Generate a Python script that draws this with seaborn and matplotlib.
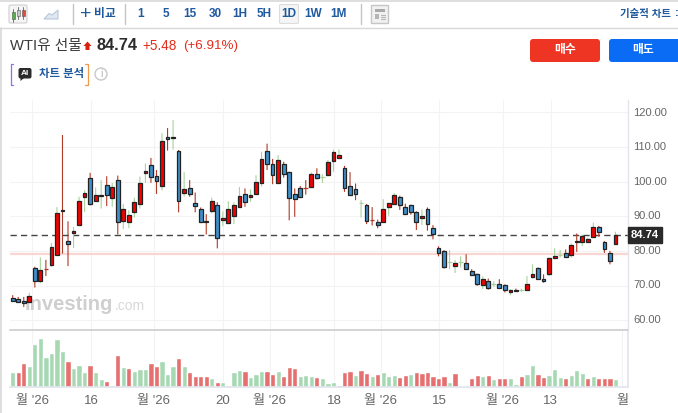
import matplotlib
matplotlib.use("Agg")
import matplotlib.pyplot as plt
from matplotlib.patches import FancyBboxPatch, Rectangle, Circle, Polygon
import numpy as np
import pandas as pd
import seaborn as sns

# candle data
opens = [66.6, 66.3, 65.7, 65.4, 75.2, 71.3, 74.9, 76.1, 79.0, 92.0,
         83.0, 85.3, 87.5, 95.7, 101.0, 94.4, 95.9, 99.2, 95.2, 100.5,
         88.8, 88.5, 91.3, 93.5, 102.5, 104.9, 101.7, 98.9, 112.9, 112.6,
         108.9, 96.9, 98.2, 93.9, 92.1, 88.8, 91.7, 93.2, 89.1, 88.0,
         90.1, 92.8, 96.6, 95.7, 96.6, 99.7, 109.0, 105.0, 99.7, 105.0,
         102.7, 96.4, 98.2, 98.3, 98.4, 102.2, 101.2, 101.9, 106.1, 107.0,
         104.0, 98.9, 97.9, 93.8, 93.4, 89.2, 88.5, 88.5, 92.6, 93.5,
         95.7, 92.8, 93.2, 91.3, 89.6, 92.3, 86.8, 80.8, 79.9, 76.9,
         75.7, 76.7, 76.6, 74.3, 73.3, 70.1, 71.5, 70.5, 70.5, 70.1,
         68.3, 68.8, 68.7, 68.8, 72.6, 75.1, 72.1, 73.4, 77.9, 78.8,
         79.4, 79.0, 83.0, 82.5, 82.7, 84.2, 87.0, 82.7, 79.6, 82.0]
closes = [65.7, 65.4, 65.1, 67.2, 71.3, 74.6, 74.8, 81.2, 90.9, 91.7,
          82.2, 85.9, 94.4, 96.8, 93.7, 96.1, 96.3, 96.2, 98.4, 88.3,
          92.3, 90.3, 94.3, 99.7, 103.0, 101.5, 100.2, 111.7, 112.3, 112.9,
          94.4, 97.9, 96.6, 92.9, 88.3, 88.3, 94.6, 83.9, 89.6, 92.1,
          93.2, 95.9, 94.3, 96.3, 100.0, 106.7, 105.0, 101.9, 106.3, 102.2,
          95.2, 94.9, 95.5, 98.2, 102.2, 101.0, 101.3, 105.6, 108.6, 107.8,
          98.2, 96.3, 96.6, 93.9, 88.8, 89.1, 87.6, 92.1, 93.8, 96.1,
          93.2, 90.6, 91.4, 88.3, 90.0, 87.8, 84.9, 79.5, 75.3, 77.0,
          76.6, 76.8, 74.9, 73.2, 70.5, 72.0, 69.3, 70.6, 69.5, 68.8,
          68.8, 68.6, 68.8, 70.5, 73.5, 72.0, 71.5, 77.9, 78.7, 78.9,
          78.4, 81.9, 82.5, 84.5, 83.6, 87.0, 85.4, 80.5, 77.2, 84.6]
highs = [67.3, 66.8, 66.8, 68.0, 75.5, 78.2, 77.5, 82.4, 92.7, 113.5,
         88.6, 87.0, 95.7, 97.6, 102.6, 98.4, 100.5, 101.6, 99.7, 101.8,
         93.6, 91.8, 95.4, 101.5, 105.3, 106.9, 103.4, 114.0, 115.5, 117.8,
         109.2, 102.8, 100.5, 96.9, 92.6, 90.7, 95.4, 94.1, 91.5, 94.4,
         94.1, 98.5, 98.1, 97.8, 101.9, 108.7, 111.0, 106.6, 107.7, 105.8,
         102.9, 98.1, 98.8, 100.5, 102.7, 103.9, 102.2, 106.3, 109.3, 109.3,
         104.6, 102.8, 99.5, 94.7, 93.6, 92.7, 89.1, 95.0, 94.0, 96.8,
         96.0, 93.7, 93.4, 91.5, 92.0, 92.6, 87.5, 81.4, 80.3, 80.3,
         77.4, 78.5, 79.1, 74.8, 73.5, 72.7, 72.1, 71.3, 71.9, 70.4,
         69.0, 69.2, 69.2, 72.8, 76.2, 75.3, 73.3, 78.2, 80.8, 80.3,
         80.5, 82.2, 85.1, 84.8, 83.9, 88.2, 87.3, 82.9, 80.1, 85.6]
lows = [65.5, 65.2, 63.9, 65.2, 69.5, 70.8, 72.8, 75.5, 78.8, 79.3,
        75.7, 80.9, 87.5, 91.3, 93.2, 94.2, 92.3, 93.0, 92.8, 84.8,
        86.4, 86.6, 89.7, 92.3, 99.7, 99.7, 96.5, 97.5, 109.0, 109.3,
        91.2, 95.7, 95.7, 91.2, 88.1, 84.8, 90.9, 80.8, 87.2, 87.8,
        87.8, 92.8, 92.8, 94.2, 96.4, 98.6, 103.4, 99.3, 99.5, 101.2,
        88.9, 89.9, 95.3, 96.3, 98.2, 100.7, 99.7, 101.6, 102.9, 106.7,
        97.1, 96.0, 94.7, 89.7, 87.8, 87.4, 86.6, 88.4, 90.2, 93.3,
        91.9, 90.4, 90.5, 86.1, 87.5, 85.9, 83.4, 78.5, 75.0, 74.8,
        73.7, 75.3, 74.7, 72.8, 70.0, 69.1, 68.9, 69.7, 69.3, 68.1,
        67.3, 68.4, 68.3, 68.6, 72.1, 71.8, 70.9, 72.8, 77.7, 78.2,
        78.3, 78.1, 79.8, 81.5, 82.5, 84.0, 84.1, 79.5, 76.2, 81.8]

volumes = [44, 44, 71, 62, 128, 146, 89, 102, 144, 107,
           79, 57, 65, 44, 65, 44, 23, 17, 5, 97,
           59, 57, 49, 54, 54, 71, 62, 78, 38, 62,
           86, 62, 44, 33, 33, 33, 28, 15, 15, 5,
           44, 52, 47, 31, 38, 47, 49, 38, 49, 33,
           59, 57, 33, 36, 33, 31, 26, 12, 15, 5,
           46, 49, 36, 52, 41, 33, 38, 46, 33, 36,
           31, 36, 38, 44, 41, 44, 33, 26, 33, 15,
           41, 0, 2, 28, 36, 33, 36, 23, 28, 28,
           26, 8, 33, 38, 65, 38, 31, 36, 54, 31,
           28, 36, 52, 41, 28, 33, 26, 26, 26, 23]
volume_sides = list(
    "grrggggggg" "rgggrggrgr" "grgggrrggg" "rgrrrrgrgg" "ggrgggrrgr"
    "rrgggrgggr" "rrgrrgrggg" "rrgrrrrrrg" "rrrrrgrgrr" "ggrggrrggg"
    "rgggrgrrrg"
)

last_price = 84.74
prev_close = 79.26
price_ticks = [60, 70, 80, 90, 100, 110, 120]
date_pos = [3.55, 14.16, 25.55, 38.03, 46.5, 58.1, 66.6, 77.1, 88.6, 97.3, 110.2]
date_labels = ["월 '26", "16", "월 '26", "20", "월 '26", "18", "월 '26", "15", "월 '26", "13", "월"]
grid_pos = date_pos[:-1]
interval_labels = ["1", "5", "15", "30", "1H", "5H", "1D", "1W", "1M"]
interval_x = [141, 166, 190, 215, 240, 264, 289, 313, 338]

W, H = 678, 413
BLUE_TXT = "#1f5a9e"
GREY_TXT = "#666666"

sns.set_theme(style="white")
plt.rcParams["font.family"] = ["Liberation Sans", "Noto Sans CJK KR", "DejaVu Sans"]


def px_axes(fig, left, top, right, bottom, **kw):
    return fig.add_axes([left / W, 1 - bottom / H, (right - left) / W, (bottom - top) / H], **kw)


fig = plt.figure(figsize=(W / 100, H / 100), dpi=100)
ax = px_axes(fig, 10, 100, 628, 329.5)
ax_vol = px_axes(fig, 10, 329.5, 628, 387)
ui = fig.add_axes([0, 0, 1, 1], facecolor="none")
ui.set_xlim(0, W)
ui.set_ylim(H, 0)
ui.axis("off")

idx = np.arange(len(opens))
o, c, hi, lo = map(np.array, (opens, closes, highs, lows))
up = c >= o
xlim = (-0.49, 111.27)

# price panel
ax.set_xlim(*xlim)
ax.set_ylim(57.4, 123.6)
ax.set_yticks(price_ticks)
ax.set_xticks(grid_pos)
ax.grid(True, color="#f3f3f3", lw=0.8)
ax.set_axisbelow(True)
ax.tick_params(left=False, bottom=False, labelbottom=False, labelleft=False)
for s in ax.spines.values():
    s.set_visible(False)

# watermark sits under the candles
ax.text(25, 310, "Investing", fontsize=14.5, fontweight="bold", color="#cfcfcf",
        transform=ui.transData, zorder=1)
ax.text(114.5, 310, ".com", fontsize=10, color="#d8d8d8", transform=ui.transData, zorder=1)

ax.axhline(prev_close, color="#f9d6d2", lw=1.6, zorder=1.5)
ax.axhline(last_price, color="#444444", lw=1, dashes=(4.5, 3), zorder=2)

wick_colors = np.where(up, "#a8d29c", "#b03a28")
wicks = ax.vlines(idx, lo, hi, colors=wick_colors, lw=0.8, zorder=3)
wicks.set_snap(False)

flat = np.abs(c - o) <= 0.15
body_colors = np.where(up, "#f40000", "#3f8fcb")
ax.bar(idx[~flat], np.abs(c - o)[~flat], bottom=np.minimum(o, c)[~flat], width=0.68,
       color=body_colors[~flat], edgecolor="#222222", lw=0.9, zorder=4)
ax.hlines(c[flat], idx[flat] - 0.42, idx[flat] + 0.42, colors=wick_colors[flat], lw=0.9, zorder=4)

# volume panel
vol_df = pd.DataFrame({"idx": idx, "volume": volumes, "side": volume_sides})
sns.barplot(data=vol_df, x="idx", y="volume", hue="side", palette={"g": "#a6d8b2", "r": "#e66f6f"},
            native_scale=True, dodge=False, width=0.95, gap=0, saturation=1, legend=False, ax=ax_vol)
ax_vol.set_xlim(*xlim)
ax_vol.set_ylim(0, 172.5)
ax_vol.set_xlabel("")
ax_vol.set_ylabel("")
ax_vol.set_yticks([])
ax_vol.set_xticks(date_pos, date_labels)
ax_vol.tick_params(axis="x", length=0, pad=6, labelsize=9.5, labelcolor=GREY_TXT)
ax_vol.grid(True, axis="x", color="#f3f3f3", lw=0.8)
ax_vol.set_axisbelow(True)
ax_vol.spines["left"].set_visible(False)
ax_vol.spines["bottom"].set_color("#e2e5ec")
ax_vol.spines["right"].set_color("#e2e5ec")
ax_vol.spines["top"].set_color("#c8c8c8")
ax_vol.spines["top"].set_linewidth(1.1)

# price scale on the right
ui.plot([628, 628], [100, 329], color="#e2e5ec", lw=1)
for p in price_ticks:
    y = 112.5 + (120 - p) * 3.46
    ui.text(633, y, f"{p:.2f}", fontsize=8, color=GREY_TXT, va="center", ha="left")
ui.add_patch(Rectangle((628, 226.5), 34, 16, color="#2a2a2a", zorder=6))
ui.text(645, 234.8, f"{last_price:.2f}", fontsize=8, color="white", fontweight="bold",
        va="center", ha="center", zorder=7)

# frame and toolbar
ui.plot([0.5, 0.5], [28, H], color="#d8d8d8", lw=1.2)
ui.plot([0, W], [0.5, 0.5], color="#d8d8d8", lw=1.2)
ui.plot([0, W], [27.5, 27.5], color="#d8d8d8", lw=1)
for x in (72.5, 124.5, 360.5):
    ui.plot([x, x], [4, 24], color="#c4c4c4", lw=1)

ui.add_patch(FancyBboxPatch((9, 5), 18, 18, boxstyle="round,pad=0,rounding_size=1.5",
                            fc="#f5f5f5", ec="#d0d0d0", lw=0.8))
for x, col, y0, y1 in ((13, "#55b04a", 12, 19), (18, "#c9c9c9", 10, 16), (23, "#e2493a", 10, 16)):
    ui.plot([x, x], [y0 - 3, y1 + 3], color="#777777", lw=0.7)
    ui.add_patch(Rectangle((x - 1.5, y0), 3, y1 - y0, fc=col, ec="#555555", lw=0.4, zorder=3))
ui.add_patch(Polygon([(44, 19), (49, 13.5), (52, 15), (58, 10), (58, 19)], fc="#dfe7f0", ec="#b8c8da", lw=0.8))

ui.text(86, 14.5, "+", fontsize=14, color=BLUE_TXT, ha="center", va="center")
ui.text(105, 13.5, "비교", fontsize=8.5, color=BLUE_TXT, fontweight="bold", ha="center", va="center")
ui.add_patch(FancyBboxPatch((279.5, 4.5), 19, 19, boxstyle="round,pad=0,rounding_size=1.5",
                            fc="#f5f5f5", ec="#dcdcdc", lw=0.8))
for x, lab in zip(interval_x, interval_labels):
    ui.text(x, 13.8, lab, fontsize=8.5, color=BLUE_TXT, fontweight="bold", ha="center", va="center")
ui.add_patch(Rectangle((371, 5), 17, 18, fc="#f1f1f1", ec="#c6c6c6", lw=1))
ui.add_patch(Rectangle((374.5, 9), 10.5, 3, fc="#a9a9a9", ec="none"))
ui.add_patch(Rectangle((374.5, 14), 4.5, 5, fc="#b5b5b5", ec="none"))
for y in (14.5, 16.5, 18.5):
    ui.plot([380.5, 385], [y, y], color="#b5b5b5", lw=0.8)
ui.text(620.5, 13.5, "기술적 차트", fontsize=7.5, color=BLUE_TXT, fontweight="bold", va="center")
ui.text(674.5, 13.5, ":", fontsize=8, color=BLUE_TXT, fontweight="bold", va="center")

# header
ui.text(10, 46, "WTI유 선물", fontsize=10.6, color="#3a3a3a", va="center")
ui.add_patch(Polygon([(87.5, 41.5), (91.5, 46), (89.5, 46), (89.5, 50), (85.5, 50), (85.5, 46), (83.5, 46)],
                     fc="#d9200f", ec="none"))
ui.text(96.5, 46, "84.74", fontsize=11.7, fontweight="bold", color="#2b2b2b", va="center")
ui.text(142, 46, "+5.48", fontsize=9.8, color="#e22d1b", va="center")
ui.text(183, 46, "(+6.91%)", fontsize=9.6, color="#e22d1b", va="center")

# AI chart analysis tag
ui.plot([13, 10.5, 10.5, 13], [63.5, 63.5, 84.5, 84.5], color="#8f6ff0", lw=0.9)
ui.plot([85, 87.5, 87.5, 85], [63.5, 63.5, 84.5, 84.5], color="#f09a4a", lw=0.9)
ui.add_patch(FancyBboxPatch((18.5, 68), 13, 10.5, boxstyle="round,pad=0,rounding_size=2", fc="#2b2b2b", ec="none"))
ui.add_patch(Polygon([(20.5, 78), (24, 78), (20.5, 81)], fc="#2b2b2b", ec="none"))
ui.text(25, 73.2, "AI", fontsize=6, fontweight="bold", color="white", ha="center", va="center")
ui.text(39, 73, "차트 분석", fontsize=8.2, color=BLUE_TXT, fontweight="bold", va="center")
ui.add_patch(Circle((101, 74), 6, fc="white", ec="#c8c8c8", lw=1))
ui.text(101, 74, "i", fontsize=7.5, color="#b5b5b5", ha="center", va="center")

# buy and sell buttons
ui.add_patch(FancyBboxPatch((530, 39), 70, 23, boxstyle="round,pad=0,rounding_size=3", fc="#ee3524", ec="none"))
ui.add_patch(FancyBboxPatch((609, 39), 75, 23, boxstyle="round,pad=0,rounding_size=3", fc="#0a6cf5", ec="none"))
ui.text(565, 50.5, "매수", fontsize=8.5, color="white", fontweight="bold", ha="center", va="center")
ui.text(643, 50.5, "매도", fontsize=8.5, color="white", fontweight="bold", ha="center", va="center")

fig.savefig("out.png", dpi=100)
